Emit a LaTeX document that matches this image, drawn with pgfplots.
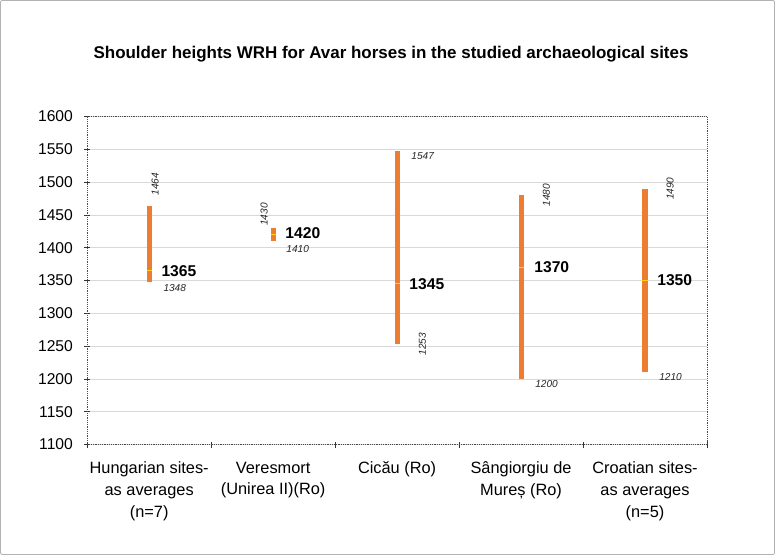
\documentclass[border=0pt]{standalone}
\usepackage{pgfplots}
\pgfplotsset{compat=1.18}
\usepackage{fontspec}
\setmainfont{Liberation Sans}
\definecolor{barorange}{HTML}{ED7D31}
\definecolor{meanyellow}{HTML}{FFD800}
\definecolor{gridgray}{HTML}{D9D9D9}
\begin{document}
\begin{tikzpicture}[
  small/.style={font=\fontsize{10bp}{12bp}\selectfont\itshape, inner sep=0pt, text=black!85},
  mean/.style={font=\fontsize{15.5bp}{18bp}\selectfont\bfseries, inner sep=0pt, anchor=west}]
\draw[gray!60, line width=0.8bp, rounded corners=2bp] (3bp,3bp) rectangle (770bp,552bp);
\node[anchor=base, font=\fontsize{16.8bp}{20bp}\selectfont\bfseries] at (390bp,494bp)
  {Shoulder heights WRH for Avar horses in the studied archaeological sites};
\begin{axis}[
  at={(89bp,112bp)}, anchor=south west,
  scale only axis, width=614bp, height=325bp,
  xmin=-0.5, xmax=4.5, ymin=1100, ymax=1600,
  ytick={1100,1150,...,1600},
  xtick={0,1,2,3,4},
  xticklabels={Hungarian sites-\\as averages\\(n=7),
    Veresmort\\(Unirea II)(Ro),
    Cicău (Ro),
    Sângiorgiu de\\Mureș (Ro),
    Croatian sites-\\as averages\\(n=5)},
  minor xtick={-0.5,0.5,...,4.5},
  major x tick style={draw=none},
  tick pos=left,
  tick align=center, major tick length=6bp, minor tick length=6bp,
  tick style={black!80, line width=0.6bp},
  ymajorgrids, grid style={gridgray, line width=0.6bp},
  axis line style={densely dotted, black!70, line width=0.8bp},
  /pgf/number format/assume math mode=true,
  /pgf/number format/1000 sep={},
  yticklabel style={font=\fontsize{15.5bp}{18bp}\selectfont, inner sep=0pt, xshift=-11bp},
  xticklabel style={font=\fontsize{16.2bp}{21.5bp}\selectfont, align=center, inner sep=0pt, yshift=-14bp},
  clip=false,
]
% ranges (min to max)
\addplot[barorange, line width=5bp] coordinates {(0,1348)(0,1464)};
\addplot[barorange, line width=5bp] coordinates {(1,1410)(1,1430)};
\addplot[barorange, line width=5bp] coordinates {(2,1253)(2,1547)};
\addplot[barorange, line width=5bp] coordinates {(3,1200)(3,1480)};
\addplot[barorange, line width=5bp] coordinates {(4,1210)(4,1490)};
% averages
\addplot[only marks, mark=-, mark size=2.5bp, mark options={meanyellow, line width=1.2bp}]
  coordinates {(0,1365)(1,1420)(2,1345)(3,1370)(4,1350)};
% labels
\node[small, xshift=6bp, yshift=10bp, rotate=90, anchor=west] at (axis cs:0,1464) {1464};
\node[small, anchor=north west, xshift=14bp, yshift=-2bp] at (axis cs:0,1348) {1348};
\node[mean, xshift=12bp] at (axis cs:0,1365) {1365};
\node[small, xshift=-9bp, yshift=2bp, rotate=90, anchor=west] at (axis cs:1,1430) {1430};
\node[small, anchor=north west, xshift=13bp, yshift=-4bp] at (axis cs:1,1410) {1410};
\node[mean, xshift=12bp, yshift=1bp] at (axis cs:1,1420) {1420};
\node[small, anchor=north west, xshift=14bp, yshift=-1bp] at (axis cs:2,1547) {1547};
\node[small, xshift=25bp, rotate=90] at (axis cs:2,1253) {1253};
\node[mean, xshift=12bp] at (axis cs:2,1345) {1345};
\node[small, xshift=25bp, rotate=90] at (axis cs:3,1480) {1480};
\node[small, anchor=north west, xshift=14bp, yshift=-1bp] at (axis cs:3,1200) {1200};
\node[mean, xshift=13bp] at (axis cs:3,1370) {1370};
\node[small, xshift=25bp, rotate=90] at (axis cs:4,1490) {1490};
\node[small, anchor=north west, xshift=14bp, yshift=-1bp] at (axis cs:4,1210) {1210};
\node[mean, xshift=12bp] at (axis cs:4,1350) {1350};
\end{axis}
\end{tikzpicture}
\end{document}
